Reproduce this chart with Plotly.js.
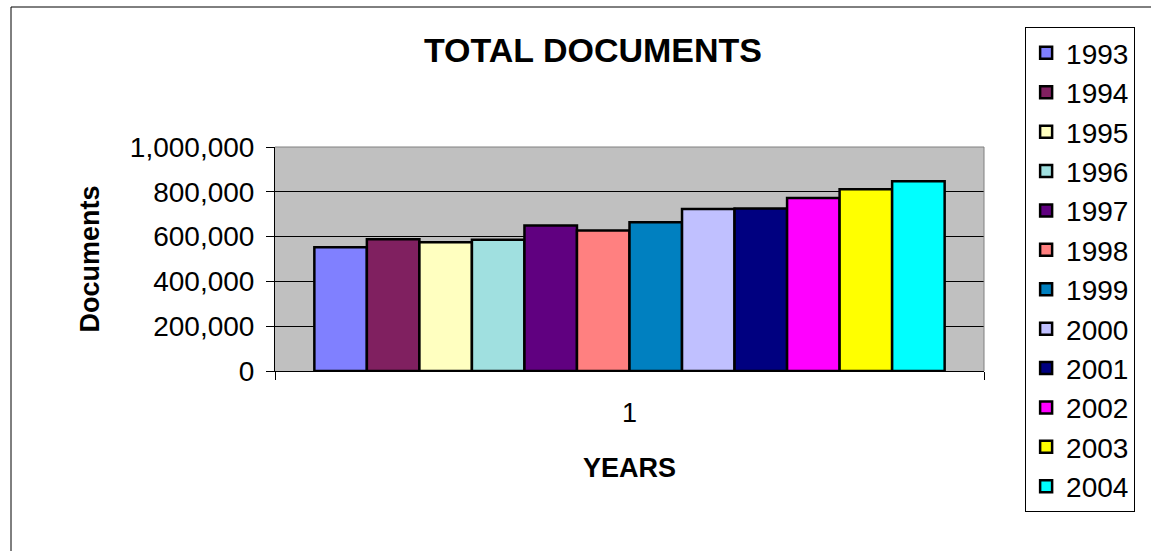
<!DOCTYPE html>
<html>
<head>
<meta charset="utf-8">
<script src="https://cdn.plot.ly/plotly-3.0.1.min.js"></script>
<style>
  html, body { margin: 0; padding: 0; background: #ffffff; }
  #chart { width: 1151px; height: 551px; }
</style>
</head>
<body>
<div id="chart"></div>
<script>
const categories = ["1"];
const years = ["1993","1994","1995","1996","1997","1998","1999","2000","2001","2002","2003","2004"];
const documents = [552000, 588000, 575000, 586000, 649000, 627000, 664000, 723000, 726000, 772000, 811000, 847000];
const colors = ["#8080FF","#802060","#FFFFC0","#A0E0E0","#600080","#FF8080","#0080C0","#C0C0FF","#000080","#FF00FF","#FFFF00","#00FFFF"];

const FONT = "Liberation Sans, Arial, sans-serif";

const traces = years.map((yr, i) => ({
  type: "bar",
  name: yr,
  x: categories,
  y: [documents[i]],
  legendgroup: yr,
  marker: { color: colors[i], line: { color: "#000000", width: 2.5 } },
  hoverinfo: "name+y"
}));

const layout = {
  width: 1151,
  height: 551,
  paper_bgcolor: "#ffffff",
  plot_bgcolor: "#C0C0C0",
  margin: { l: 275, r: 167, t: 147, b: 180, pad: 0 },
  font: { family: FONT, color: "#000000", size: 27 },
  title: {
    text: "<b>TOTAL DOCUMENTS</b>",
    font: { family: FONT, size: 34, color: "#000000" },
    x: 593 / 1151, xref: "container", xanchor: "center",
    y: 1 - 50 / 551, yref: "container", yanchor: "middle"
  },
  barmode: "group",
  bargap: 0.111,
  bargroupgap: 0,
  showlegend: true,
  legend: {
    x: 1.058, xanchor: "left", xref: "paper",
    y: 1.535, yanchor: "top", yref: "paper",
    maxheight: 540,
    bordercolor: "#000000", borderwidth: 1, bgcolor: "#ffffff",
    font: { family: FONT, size: 28, color: "#000000" },
    tracegroupgap: 3,
    traceorder: "normal",
    itemclick: false
  },
  xaxis: {
    type: "category",
    showgrid: false,
    showline: true, linecolor: "#000000", linewidth: 1,
    ticks: "outside", tickson: "boundaries", ticklen: 8, tickcolor: "#000000",
    tickfont: { family: FONT, size: 27 },
    ticklabelstandoff: 18,
    title: { text: "<b>YEARS</b>", font: { family: FONT, size: 27 }, standoff: 30 },
    zeroline: false
  },
  yaxis: {
    range: [0, 1000000],
    tickvals: [0, 200000, 400000, 600000, 800000, 1000000],
    tickformat: ",d",
    showgrid: true, gridcolor: "#000000", gridwidth: 1,
    showline: true, linecolor: "#000000", linewidth: 1,
    ticks: "outside", ticklen: 8, tickcolor: "#000000",
    tickfont: { family: FONT, size: 28 },
    ticklabelstandoff: 6,
    title: { text: "<b>Documents</b>", font: { family: FONT, size: 27 }, standoff: 22 },
    zeroline: false,
    fixedrange: true
  },
  shapes: [
    { type: "line", xref: "paper", yref: "paper", x0: 0, x1: 1, y0: 1, y1: 1,
      line: { color: "#808080", width: 1 }, layer: "above" },
    { type: "line", xref: "paper", yref: "paper", x0: 1, x1: 1, y0: 0, y1: 1,
      line: { color: "#808080", width: 1 }, layer: "above" },
    { type: "rect", xref: "paper", yref: "paper",
      x0: (11 - 275) / 709, x1: (1165 - 275) / 709,
      y0: (371 - 565) / 224, y1: (371 - 7) / 224,
      line: { color: "#000000", width: 1 }, fillcolor: "rgba(0,0,0,0)", layer: "below" }
  ]
};

Plotly.newPlot("chart", traces, layout, { displayModeBar: false });
</script>
</body>
</html>
